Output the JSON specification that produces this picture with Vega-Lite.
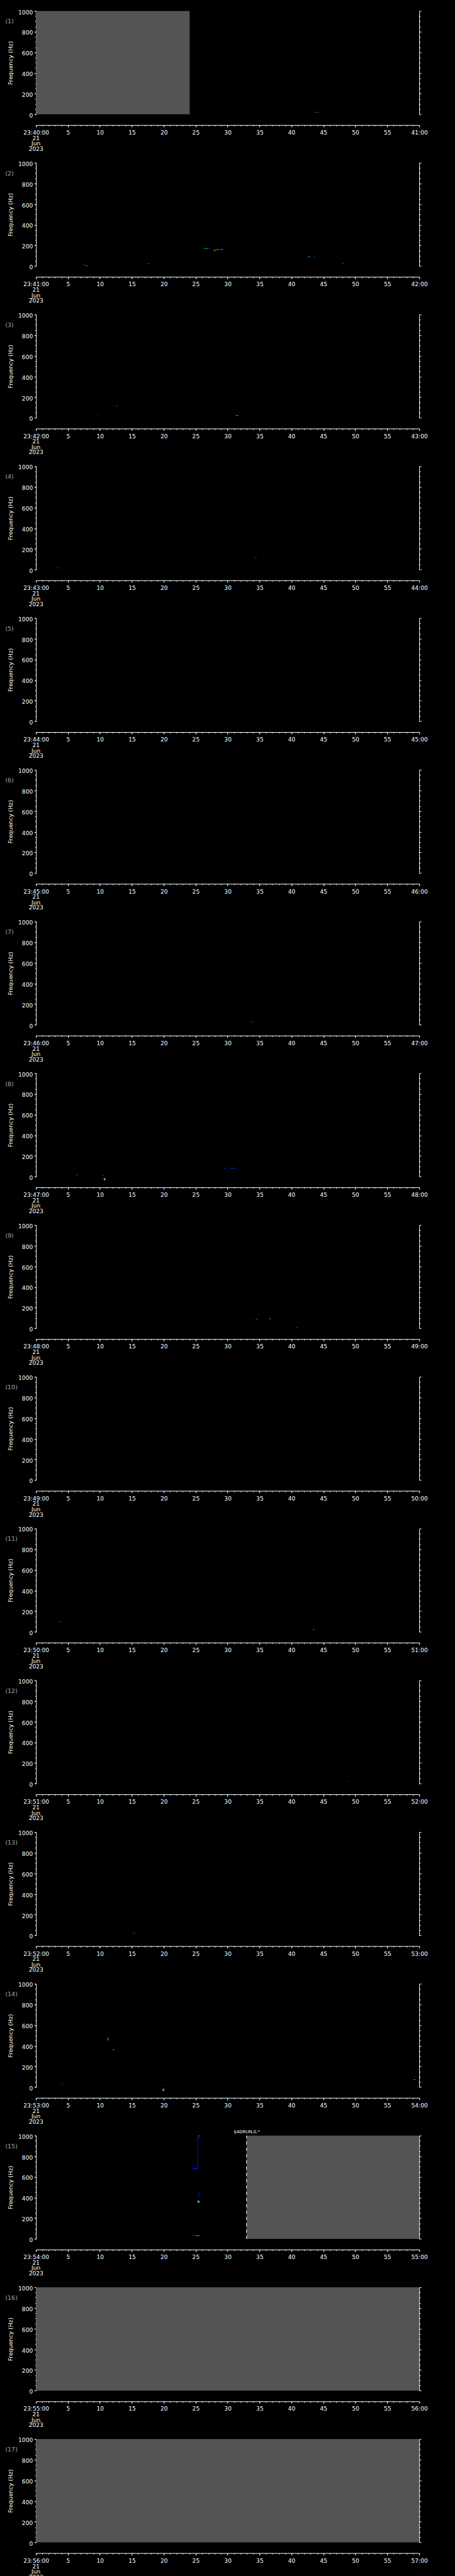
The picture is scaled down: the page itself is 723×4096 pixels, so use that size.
{
"$schema": "https://vega.github.io/schema/vega-lite/v6.json",
"background": "black",
"padding": {"left": 8.2, "top": 14.5, "right": 50, "bottom": 20},
"spacing": 76.3,
"bounds": "flush",
"config": {
  "view": {"stroke": null},
  "font": "DejaVu Sans",
  "axis": {"domainColor": "white", "tickColor": "white", "labelColor": "white", "titleColor": "white", "labelFont": "DejaVu Sans", "titleFont": "DejaVu Sans", "labelFontSize": 9.1, "titleFontSize": 9.2, "titleFontWeight": "normal", "grid": false, "labelOverlap": false, "labelFlush": false, "domainWidth": 1, "tickWidth": 1, "format": "d"}
},
"datasets": {
  "gaps": [
    {"panel": 1, "t0": 0, "t1": 24.06, "f0": 0, "f1": 1000},
    {"panel": 15, "t0": 32.97, "t1": 60, "f0": 0, "f1": 1000},
    {"panel": 16, "t0": 0, "t1": 60, "f0": 0, "f1": 1000},
    {"panel": 17, "t0": 0, "t1": 60, "f0": 0, "f1": 1000}
  ],
  "dates": [
    {"t": 0, "f": -231, "text": "21"},
    {"t": 0, "f": -283, "text": "Jun"},
    {"t": 0, "f": -335, "text": "2023"}
  ],
  "notes": [
    {"panel": 15, "t": 30.98, "f": 1036, "text": "$ADRUN,0,*"},
    {"panel": 8, "t": 10.55, "f": -27, "text": "4"},
    {"panel": 14, "t": 19.75, "f": -27, "text": "4"}
  ],
  "tags": [
    {"panel": 1, "t": -4.81, "f": 897, "text": "(1)"},
    {"panel": 2, "t": -4.81, "f": 897, "text": "(2)"},
    {"panel": 3, "t": -4.81, "f": 897, "text": "(3)"},
    {"panel": 4, "t": -4.81, "f": 897, "text": "(4)"},
    {"panel": 5, "t": -4.81, "f": 897, "text": "(5)"},
    {"panel": 6, "t": -4.81, "f": 897, "text": "(6)"},
    {"panel": 7, "t": -4.81, "f": 897, "text": "(7)"},
    {"panel": 8, "t": -4.81, "f": 897, "text": "(8)"},
    {"panel": 9, "t": -4.81, "f": 897, "text": "(9)"},
    {"panel": 10, "t": -4.81, "f": 897, "text": "(10)"},
    {"panel": 11, "t": -4.81, "f": 897, "text": "(11)"},
    {"panel": 12, "t": -4.81, "f": 897, "text": "(12)"},
    {"panel": 13, "t": -4.81, "f": 897, "text": "(13)"},
    {"panel": 14, "t": -4.81, "f": 897, "text": "(14)"},
    {"panel": 15, "t": -4.81, "f": 897, "text": "(15)"},
    {"panel": 16, "t": -4.81, "f": 897, "text": "(16)"},
    {"panel": 17, "t": -4.81, "f": 897, "text": "(17)"}
  ],
  "pix": [
    {"panel": 1, "t": 7.42, "t2": 7.5, "f": 37, "f2": 41, "p": 2},
    {"panel": 1, "t": 7.5, "t2": 7.62, "f": 37, "f2": 41, "p": 3},
    {"panel": 1, "t": 7.42, "t2": 7.7, "f": 10, "f2": 14, "p": 7},
    {"panel": 1, "t": 15.52, "t2": 15.78, "f": 83, "f2": 87, "p": 2},
    {"panel": 1, "t": 43.45, "t2": 43.94, "f": 20, "f2": 23, "p": 7},
    {"panel": 1, "t": 43.94, "t2": 44.15, "f": 20, "f2": 23, "p": 5},
    {"panel": 1, "t": 44.15, "t2": 44.52, "f": 20, "f2": 23, "p": 2},
    {"panel": 2, "t": 7.45, "t2": 7.65, "f": 13, "f2": 18, "p": 7},
    {"panel": 2, "t": 7.62, "t2": 7.8, "f": 7, "f2": 12, "p": 7},
    {"panel": 2, "t": 7.75, "t2": 7.95, "f": 1, "f2": 6, "p": 7},
    {"panel": 2, "t": 7.95, "t2": 8.13, "f": 0, "f2": 4, "p": 4},
    {"panel": 2, "t": 17.5, "t2": 17.6, "f": 23, "f2": 26, "p": 5},
    {"panel": 2, "t": 17.6, "t2": 17.78, "f": 23, "f2": 26, "p": 3},
    {"panel": 2, "t": 26.23, "t2": 27.0, "f": 168, "f2": 172, "p": 3},
    {"panel": 2, "t": 27.05, "t2": 27.4, "f": 168, "f2": 172, "p": 2},
    {"panel": 2, "t": 26.23, "t2": 26.35, "f": 23, "f2": 26, "p": 7},
    {"panel": 2, "t": 26.35, "t2": 26.58, "f": 23, "f2": 26, "p": 2},
    {"panel": 2, "t": 27.83, "t2": 27.99, "f": 147, "f2": 154, "p": 5},
    {"panel": 2, "t": 27.99, "t2": 28.22, "f": 154, "f2": 158, "p": 6},
    {"panel": 2, "t": 28.22, "t2": 28.6, "f": 158, "f2": 163, "p": 6},
    {"panel": 2, "t": 28.6, "t2": 28.92, "f": 158, "f2": 163, "p": 7},
    {"panel": 2, "t": 28.92, "t2": 29.15, "f": 158, "f2": 163, "p": 5},
    {"panel": 2, "t": 29.15, "t2": 29.55, "f": 158, "f2": 163, "p": 2},
    {"panel": 2, "t": 42.41, "t2": 42.66, "f": 87, "f2": 91, "p": 2},
    {"panel": 2, "t": 42.66, "t2": 42.94, "f": 88, "f2": 93, "p": 3},
    {"panel": 2, "t": 43.41, "t2": 43.55, "f": 87, "f2": 90, "p": 2},
    {"panel": 2, "t": 43.55, "t2": 43.66, "f": 87, "f2": 90, "p": 3},
    {"panel": 2, "t": 43.66, "t2": 43.82, "f": 87, "f2": 90, "p": 2},
    {"panel": 2, "t": 47.97, "t2": 48.15, "f": 23, "f2": 26, "p": 5},
    {"panel": 2, "t": 48.15, "t2": 48.39, "f": 23, "f2": 26, "p": 2},
    {"panel": 3, "t": 12.45, "t2": 12.6, "f": 113, "f2": 117, "p": 2},
    {"panel": 3, "t": 12.6, "t2": 12.75, "f": 113, "f2": 117, "p": 3},
    {"panel": 3, "t": 12.75, "t2": 12.91, "f": 113, "f2": 117, "p": 2},
    {"panel": 3, "t": 9.59, "t2": 9.75, "f": 22, "f2": 26, "p": 7},
    {"panel": 3, "t": 9.75, "t2": 9.9, "f": 22, "f2": 26, "p": 2},
    {"panel": 3, "t": 31.27, "t2": 31.47, "f": 22, "f2": 26, "p": 6},
    {"panel": 3, "t": 31.47, "t2": 31.66, "f": 22, "f2": 26, "p": 5},
    {"panel": 4, "t": 3.26, "t2": 3.53, "f": 16, "f2": 20, "p": 7},
    {"panel": 4, "t": 3.53, "t2": 3.96, "f": 13, "f2": 16, "p": 2},
    {"panel": 4, "t": 34.32, "t2": 34.51, "f": 113, "f2": 117, "p": 3},
    {"panel": 4, "t": 35.63, "t2": 35.94, "f": 108, "f2": 112, "p": 2},
    {"panel": 4, "t": 59.63, "t2": 59.75, "f": 103, "f2": 107, "p": 6},
    {"panel": 4, "t": 59.75, "t2": 59.9, "f": 103, "f2": 107, "p": 2},
    {"panel": 7, "t": 33.71, "t2": 33.9, "f": 26, "f2": 29, "p": 5},
    {"panel": 8, "t": 6.31, "t2": 6.4, "f": 16, "f2": 20, "p": 5},
    {"panel": 8, "t": 6.4, "t2": 6.5, "f": 16, "f2": 20, "p": 7},
    {"panel": 8, "t": 6.5, "t2": 6.62, "f": 16, "f2": 20, "p": 2},
    {"panel": 8, "t": 10.44, "t2": 10.65, "f": 8, "f2": 11, "p": 3},
    {"panel": 8, "t": 10.65, "t2": 10.98, "f": 8, "f2": 11, "p": 2},
    {"panel": 8, "t": 29.42, "t2": 29.88, "f": 79, "f2": 84, "p": 2},
    {"panel": 8, "t": 30.38, "t2": 30.6, "f": 81, "f2": 85, "p": 2},
    {"panel": 8, "t": 30.6, "t2": 30.8, "f": 80, "f2": 85, "p": 3},
    {"panel": 8, "t": 30.8, "t2": 31.35, "f": 77, "f2": 82, "p": 2},
    {"panel": 9, "t": 32.66, "t2": 32.93, "f": 78, "f2": 83, "p": 2},
    {"panel": 9, "t": 33.48, "t2": 33.75, "f": 87, "f2": 90, "p": 2},
    {"panel": 9, "t": 34.44, "t2": 34.6, "f": 84, "f2": 89, "p": 3},
    {"panel": 9, "t": 34.6, "t2": 34.79, "f": 89, "f2": 96, "p": 2},
    {"panel": 9, "t": 36.45, "t2": 36.53, "f": 98, "f2": 107, "p": 2},
    {"panel": 9, "t": 36.56, "t2": 36.83, "f": 90, "f2": 95, "p": 3},
    {"panel": 9, "t": 40.76, "t2": 40.95, "f": 6, "f2": 10, "p": 3},
    {"panel": 11, "t": 3.8, "t2": 3.87, "f": 95, "f2": 102, "p": 3},
    {"panel": 11, "t": 3.87, "t2": 3.96, "f": 89, "f2": 95, "p": 2},
    {"panel": 11, "t": 34.71, "t2": 34.85, "f": 18, "f2": 21, "p": 7},
    {"panel": 11, "t": 34.85, "t2": 35.02, "f": 18, "f2": 21, "p": 2},
    {"panel": 11, "t": 43.31, "t2": 43.45, "f": 18, "f2": 22, "p": 7},
    {"panel": 11, "t": 43.45, "t2": 43.55, "f": 19, "f2": 26, "p": 3},
    {"panel": 11, "t": 43.55, "t2": 43.77, "f": 22, "f2": 26, "p": 2},
    {"panel": 12, "t": 48.6, "t2": 48.72, "f": 18, "f2": 21, "p": 3},
    {"panel": 12, "t": 48.72, "t2": 48.9, "f": 18, "f2": 21, "p": 2},
    {"panel": 13, "t": 15.23, "t2": 15.4, "f": 21, "f2": 24, "p": 5},
    {"panel": 13, "t": 15.4, "t2": 15.65, "f": 21, "f2": 24, "p": 2},
    {"panel": 14, "t": 11.2, "t2": 11.3, "f": 452, "f2": 478, "p": 3},
    {"panel": 14, "t": 11.25, "t2": 11.45, "f": 477, "f2": 484, "p": 2},
    {"panel": 14, "t": 12.06, "t2": 12.25, "f": 359, "f2": 366, "p": 6},
    {"panel": 14, "t": 13.49, "t2": 13.68, "f": 104, "f2": 107, "p": 1},
    {"panel": 14, "t": 4.03, "t2": 4.17, "f": 26, "f2": 31, "p": 7},
    {"panel": 14, "t": 4.15, "t2": 4.3, "f": 21, "f2": 26, "p": 7},
    {"panel": 14, "t": 19.62, "t2": 19.76, "f": 13, "f2": 16, "p": 7},
    {"panel": 14, "t": 19.76, "t2": 20.13, "f": 13, "f2": 16, "p": 2},
    {"panel": 14, "t": 28.35, "t2": 28.5, "f": 16, "f2": 19, "p": 7},
    {"panel": 14, "t": 28.5, "t2": 28.73, "f": 16, "f2": 19, "p": 2},
    {"panel": 14, "t": 59.21, "t2": 59.51, "f": 103, "f2": 107, "p": 2},
    {"panel": 14, "t": 59.14, "t2": 59.4, "f": 70, "f2": 76, "p": 4},
    {"panel": 15, "t": 24.55, "t2": 24.62, "f": 678, "f2": 735, "p": 1},
    {"panel": 15, "t": 24.57, "t2": 25.3, "f": 675, "f2": 684, "p": 2},
    {"panel": 15, "t": 25.27, "t2": 25.36, "f": 675, "f2": 978, "p": 2},
    {"panel": 15, "t": 25.3, "t2": 25.45, "f": 960, "f2": 990, "p": 2},
    {"panel": 15, "t": 25.47, "t2": 25.6, "f": 993, "f2": 1000, "p": 5},
    {"panel": 15, "t": 25.45, "t2": 25.55, "f": 399, "f2": 453, "p": 2},
    {"panel": 15, "t": 25.3, "t2": 25.6, "f": 352, "f2": 370, "p": 3},
    {"panel": 15, "t": 24.57, "t2": 25.05, "f": 29, "f2": 33, "p": 7},
    {"panel": 15, "t": 25.05, "t2": 25.35, "f": 29, "f2": 33, "p": 5},
    {"panel": 15, "t": 25.35, "t2": 25.7, "f": 29, "f2": 33, "p": 4}
  ]
},
"vconcat": [
{"width": 608.9, "height": 164.3, "resolve": {"scale": {"x": "independent", "y": "independent"}}, "layer": [
 {"data": {"name": "gaps"}, "transform": [{"filter": "datum.panel == 1"}], "mark": {"type": "rect", "color": "#545454"}, "encoding": {
  "x": {"field": "t0", "type": "quantitative", "scale": {"domain": [0, 60], "nice": false, "zero": false}, "axis": {"orient": "bottom", "title": null, "offset": 17, "labelOverlap": false, "values": [0,5,10,15,20,25,30,35,40,45,50,55,60], "tickSize": 3.2, "labelPadding": 4.5, "labelExpr": "datum.value == 0 ? '23:40:00' : datum.value == 60 ? '41:00' : datum.label"}},
  "x2": {"field": "t1"},
  "y": {"field": "f0", "type": "quantitative", "scale": {"domain": [0, 1000], "nice": false, "zero": false}, "axis": {"orient": "left", "title": "Frequency (Hz)", "titleX": -41, "titleBaseline": "middle", "labelOverlap": false, "values": [0,200,400,600,800,1000], "tickSize": 3, "labelPadding": 2.5, "labelOffset": 1.5}},
  "y2": {"field": "f1"}}},
 {"data": {"name": "pix"}, "transform": [{"filter": "datum.panel == 1"}], "mark": {"type": "rect"}, "encoding": {
  "x": {"field": "t", "type": "quantitative", "scale": {"domain": [0, 60], "nice": false, "zero": false}, "axis": null},
  "x2": {"field": "t2"},
  "y": {"field": "f", "type": "quantitative", "scale": {"domain": [0, 1000], "nice": false, "zero": false}, "axis": {"orient": "right", "title": null, "labels": false, "values": [0,50,100,150,200,250,300,350,400,450,500,550,600,650,700,750,800,850,900,950,1000], "tickSize": {"condition": {"test": "datum.value % 200 == 0", "value": 3.1}, "value": 1.9}}},
  "y2": {"field": "f2"},
  "color": {"field": "p", "type": "ordinal", "scale": {"domain": [1,2,3,4,5,6,7], "range": ["#00008c","#0010ff","#00e8ff","#00ff50","#ffff00","#ffa000","#e00000"]}, "legend": null}}},
 {"data": {"name": "tags"}, "transform": [{"filter": "datum.panel == 1"}], "mark": {"type": "text", "align": "left", "baseline": "middle", "color": "#a8a8a8", "fontSize": 9.5}, "encoding": {
  "x": {"field": "t", "type": "quantitative", "scale": {"domain": [0, 60], "nice": false, "zero": false}, "axis": {"orient": "bottom", "title": null, "offset": 17, "labels": false, "domain": false, "tickSize": 1.7, "values": [0,1,2,3,4,5,6,7,8,9,10,11,12,13,14,15,16,17,18,19,20,21,22,23,24,25,26,27,28,29,30,31,32,33,34,35,36,37,38,39,40,41,42,43,44,45,46,47,48,49,50,51,52,53,54,55,56,57,58,59,60]}},
  "y": {"field": "f", "type": "quantitative", "scale": {"domain": [0, 1000], "nice": false, "zero": false}, "axis": {"orient": "left", "title": null, "labels": false, "domain": false, "tickSize": 1.7, "values": [0,50,100,150,200,250,300,350,400,450,500,550,600,650,700,750,800,850,900,950,1000]}},
  "text": {"field": "text"}}},
 {"data": {"name": "dates"}, "mark": {"type": "text", "align": "center", "baseline": "middle", "color": "white", "fontSize": 9.1}, "encoding": {
  "x": {"field": "t", "type": "quantitative", "scale": {"domain": [0, 60], "nice": false, "zero": false}, "axis": null},
  "y": {"field": "f", "type": "quantitative", "scale": {"domain": [0, 1000], "nice": false, "zero": false}, "axis": null},
  "text": {"field": "text"}}}
]},
{"width": 608.9, "height": 164.3, "resolve": {"scale": {"x": "independent", "y": "independent"}}, "layer": [
 {"data": {"name": "gaps"}, "transform": [{"filter": "datum.panel == 2"}], "mark": {"type": "rect", "color": "#545454"}, "encoding": {
  "x": {"field": "t0", "type": "quantitative", "scale": {"domain": [0, 60], "nice": false, "zero": false}, "axis": {"orient": "bottom", "title": null, "offset": 17, "labelOverlap": false, "values": [0,5,10,15,20,25,30,35,40,45,50,55,60], "tickSize": 3.2, "labelPadding": 4.5, "labelExpr": "datum.value == 0 ? '23:41:00' : datum.value == 60 ? '42:00' : datum.label"}},
  "x2": {"field": "t1"},
  "y": {"field": "f0", "type": "quantitative", "scale": {"domain": [0, 1000], "nice": false, "zero": false}, "axis": {"orient": "left", "title": "Frequency (Hz)", "titleX": -41, "titleBaseline": "middle", "labelOverlap": false, "values": [0,200,400,600,800,1000], "tickSize": 3, "labelPadding": 2.5, "labelOffset": 1.5}},
  "y2": {"field": "f1"}}},
 {"data": {"name": "pix"}, "transform": [{"filter": "datum.panel == 2"}], "mark": {"type": "rect"}, "encoding": {
  "x": {"field": "t", "type": "quantitative", "scale": {"domain": [0, 60], "nice": false, "zero": false}, "axis": null},
  "x2": {"field": "t2"},
  "y": {"field": "f", "type": "quantitative", "scale": {"domain": [0, 1000], "nice": false, "zero": false}, "axis": {"orient": "right", "title": null, "labels": false, "values": [0,50,100,150,200,250,300,350,400,450,500,550,600,650,700,750,800,850,900,950,1000], "tickSize": {"condition": {"test": "datum.value % 200 == 0", "value": 3.1}, "value": 1.9}}},
  "y2": {"field": "f2"},
  "color": {"field": "p", "type": "ordinal", "scale": {"domain": [1,2,3,4,5,6,7], "range": ["#00008c","#0010ff","#00e8ff","#00ff50","#ffff00","#ffa000","#e00000"]}, "legend": null}}},
 {"data": {"name": "tags"}, "transform": [{"filter": "datum.panel == 2"}], "mark": {"type": "text", "align": "left", "baseline": "middle", "color": "#a8a8a8", "fontSize": 9.5}, "encoding": {
  "x": {"field": "t", "type": "quantitative", "scale": {"domain": [0, 60], "nice": false, "zero": false}, "axis": {"orient": "bottom", "title": null, "offset": 17, "labels": false, "domain": false, "tickSize": 1.7, "values": [0,1,2,3,4,5,6,7,8,9,10,11,12,13,14,15,16,17,18,19,20,21,22,23,24,25,26,27,28,29,30,31,32,33,34,35,36,37,38,39,40,41,42,43,44,45,46,47,48,49,50,51,52,53,54,55,56,57,58,59,60]}},
  "y": {"field": "f", "type": "quantitative", "scale": {"domain": [0, 1000], "nice": false, "zero": false}, "axis": {"orient": "left", "title": null, "labels": false, "domain": false, "tickSize": 1.7, "values": [0,50,100,150,200,250,300,350,400,450,500,550,600,650,700,750,800,850,900,950,1000]}},
  "text": {"field": "text"}}},
 {"data": {"name": "dates"}, "mark": {"type": "text", "align": "center", "baseline": "middle", "color": "white", "fontSize": 9.1}, "encoding": {
  "x": {"field": "t", "type": "quantitative", "scale": {"domain": [0, 60], "nice": false, "zero": false}, "axis": null},
  "y": {"field": "f", "type": "quantitative", "scale": {"domain": [0, 1000], "nice": false, "zero": false}, "axis": null},
  "text": {"field": "text"}}}
]},
{"width": 608.9, "height": 164.3, "resolve": {"scale": {"x": "independent", "y": "independent"}}, "layer": [
 {"data": {"name": "gaps"}, "transform": [{"filter": "datum.panel == 3"}], "mark": {"type": "rect", "color": "#545454"}, "encoding": {
  "x": {"field": "t0", "type": "quantitative", "scale": {"domain": [0, 60], "nice": false, "zero": false}, "axis": {"orient": "bottom", "title": null, "offset": 17, "labelOverlap": false, "values": [0,5,10,15,20,25,30,35,40,45,50,55,60], "tickSize": 3.2, "labelPadding": 4.5, "labelExpr": "datum.value == 0 ? '23:42:00' : datum.value == 60 ? '43:00' : datum.label"}},
  "x2": {"field": "t1"},
  "y": {"field": "f0", "type": "quantitative", "scale": {"domain": [0, 1000], "nice": false, "zero": false}, "axis": {"orient": "left", "title": "Frequency (Hz)", "titleX": -41, "titleBaseline": "middle", "labelOverlap": false, "values": [0,200,400,600,800,1000], "tickSize": 3, "labelPadding": 2.5, "labelOffset": 1.5}},
  "y2": {"field": "f1"}}},
 {"data": {"name": "pix"}, "transform": [{"filter": "datum.panel == 3"}], "mark": {"type": "rect"}, "encoding": {
  "x": {"field": "t", "type": "quantitative", "scale": {"domain": [0, 60], "nice": false, "zero": false}, "axis": null},
  "x2": {"field": "t2"},
  "y": {"field": "f", "type": "quantitative", "scale": {"domain": [0, 1000], "nice": false, "zero": false}, "axis": {"orient": "right", "title": null, "labels": false, "values": [0,50,100,150,200,250,300,350,400,450,500,550,600,650,700,750,800,850,900,950,1000], "tickSize": {"condition": {"test": "datum.value % 200 == 0", "value": 3.1}, "value": 1.9}}},
  "y2": {"field": "f2"},
  "color": {"field": "p", "type": "ordinal", "scale": {"domain": [1,2,3,4,5,6,7], "range": ["#00008c","#0010ff","#00e8ff","#00ff50","#ffff00","#ffa000","#e00000"]}, "legend": null}}},
 {"data": {"name": "tags"}, "transform": [{"filter": "datum.panel == 3"}], "mark": {"type": "text", "align": "left", "baseline": "middle", "color": "#a8a8a8", "fontSize": 9.5}, "encoding": {
  "x": {"field": "t", "type": "quantitative", "scale": {"domain": [0, 60], "nice": false, "zero": false}, "axis": {"orient": "bottom", "title": null, "offset": 17, "labels": false, "domain": false, "tickSize": 1.7, "values": [0,1,2,3,4,5,6,7,8,9,10,11,12,13,14,15,16,17,18,19,20,21,22,23,24,25,26,27,28,29,30,31,32,33,34,35,36,37,38,39,40,41,42,43,44,45,46,47,48,49,50,51,52,53,54,55,56,57,58,59,60]}},
  "y": {"field": "f", "type": "quantitative", "scale": {"domain": [0, 1000], "nice": false, "zero": false}, "axis": {"orient": "left", "title": null, "labels": false, "domain": false, "tickSize": 1.7, "values": [0,50,100,150,200,250,300,350,400,450,500,550,600,650,700,750,800,850,900,950,1000]}},
  "text": {"field": "text"}}},
 {"data": {"name": "dates"}, "mark": {"type": "text", "align": "center", "baseline": "middle", "color": "white", "fontSize": 9.1}, "encoding": {
  "x": {"field": "t", "type": "quantitative", "scale": {"domain": [0, 60], "nice": false, "zero": false}, "axis": null},
  "y": {"field": "f", "type": "quantitative", "scale": {"domain": [0, 1000], "nice": false, "zero": false}, "axis": null},
  "text": {"field": "text"}}}
]},
{"width": 608.9, "height": 164.3, "resolve": {"scale": {"x": "independent", "y": "independent"}}, "layer": [
 {"data": {"name": "gaps"}, "transform": [{"filter": "datum.panel == 4"}], "mark": {"type": "rect", "color": "#545454"}, "encoding": {
  "x": {"field": "t0", "type": "quantitative", "scale": {"domain": [0, 60], "nice": false, "zero": false}, "axis": {"orient": "bottom", "title": null, "offset": 17, "labelOverlap": false, "values": [0,5,10,15,20,25,30,35,40,45,50,55,60], "tickSize": 3.2, "labelPadding": 4.5, "labelExpr": "datum.value == 0 ? '23:43:00' : datum.value == 60 ? '44:00' : datum.label"}},
  "x2": {"field": "t1"},
  "y": {"field": "f0", "type": "quantitative", "scale": {"domain": [0, 1000], "nice": false, "zero": false}, "axis": {"orient": "left", "title": "Frequency (Hz)", "titleX": -41, "titleBaseline": "middle", "labelOverlap": false, "values": [0,200,400,600,800,1000], "tickSize": 3, "labelPadding": 2.5, "labelOffset": 1.5}},
  "y2": {"field": "f1"}}},
 {"data": {"name": "pix"}, "transform": [{"filter": "datum.panel == 4"}], "mark": {"type": "rect"}, "encoding": {
  "x": {"field": "t", "type": "quantitative", "scale": {"domain": [0, 60], "nice": false, "zero": false}, "axis": null},
  "x2": {"field": "t2"},
  "y": {"field": "f", "type": "quantitative", "scale": {"domain": [0, 1000], "nice": false, "zero": false}, "axis": {"orient": "right", "title": null, "labels": false, "values": [0,50,100,150,200,250,300,350,400,450,500,550,600,650,700,750,800,850,900,950,1000], "tickSize": {"condition": {"test": "datum.value % 200 == 0", "value": 3.1}, "value": 1.9}}},
  "y2": {"field": "f2"},
  "color": {"field": "p", "type": "ordinal", "scale": {"domain": [1,2,3,4,5,6,7], "range": ["#00008c","#0010ff","#00e8ff","#00ff50","#ffff00","#ffa000","#e00000"]}, "legend": null}}},
 {"data": {"name": "tags"}, "transform": [{"filter": "datum.panel == 4"}], "mark": {"type": "text", "align": "left", "baseline": "middle", "color": "#a8a8a8", "fontSize": 9.5}, "encoding": {
  "x": {"field": "t", "type": "quantitative", "scale": {"domain": [0, 60], "nice": false, "zero": false}, "axis": {"orient": "bottom", "title": null, "offset": 17, "labels": false, "domain": false, "tickSize": 1.7, "values": [0,1,2,3,4,5,6,7,8,9,10,11,12,13,14,15,16,17,18,19,20,21,22,23,24,25,26,27,28,29,30,31,32,33,34,35,36,37,38,39,40,41,42,43,44,45,46,47,48,49,50,51,52,53,54,55,56,57,58,59,60]}},
  "y": {"field": "f", "type": "quantitative", "scale": {"domain": [0, 1000], "nice": false, "zero": false}, "axis": {"orient": "left", "title": null, "labels": false, "domain": false, "tickSize": 1.7, "values": [0,50,100,150,200,250,300,350,400,450,500,550,600,650,700,750,800,850,900,950,1000]}},
  "text": {"field": "text"}}},
 {"data": {"name": "dates"}, "mark": {"type": "text", "align": "center", "baseline": "middle", "color": "white", "fontSize": 9.1}, "encoding": {
  "x": {"field": "t", "type": "quantitative", "scale": {"domain": [0, 60], "nice": false, "zero": false}, "axis": null},
  "y": {"field": "f", "type": "quantitative", "scale": {"domain": [0, 1000], "nice": false, "zero": false}, "axis": null},
  "text": {"field": "text"}}}
]},
{"width": 608.9, "height": 164.3, "resolve": {"scale": {"x": "independent", "y": "independent"}}, "layer": [
 {"data": {"name": "gaps"}, "transform": [{"filter": "datum.panel == 5"}], "mark": {"type": "rect", "color": "#545454"}, "encoding": {
  "x": {"field": "t0", "type": "quantitative", "scale": {"domain": [0, 60], "nice": false, "zero": false}, "axis": {"orient": "bottom", "title": null, "offset": 17, "labelOverlap": false, "values": [0,5,10,15,20,25,30,35,40,45,50,55,60], "tickSize": 3.2, "labelPadding": 4.5, "labelExpr": "datum.value == 0 ? '23:44:00' : datum.value == 60 ? '45:00' : datum.label"}},
  "x2": {"field": "t1"},
  "y": {"field": "f0", "type": "quantitative", "scale": {"domain": [0, 1000], "nice": false, "zero": false}, "axis": {"orient": "left", "title": "Frequency (Hz)", "titleX": -41, "titleBaseline": "middle", "labelOverlap": false, "values": [0,200,400,600,800,1000], "tickSize": 3, "labelPadding": 2.5, "labelOffset": 1.5}},
  "y2": {"field": "f1"}}},
 {"data": {"name": "pix"}, "transform": [{"filter": "datum.panel == 5"}], "mark": {"type": "rect"}, "encoding": {
  "x": {"field": "t", "type": "quantitative", "scale": {"domain": [0, 60], "nice": false, "zero": false}, "axis": null},
  "x2": {"field": "t2"},
  "y": {"field": "f", "type": "quantitative", "scale": {"domain": [0, 1000], "nice": false, "zero": false}, "axis": {"orient": "right", "title": null, "labels": false, "values": [0,50,100,150,200,250,300,350,400,450,500,550,600,650,700,750,800,850,900,950,1000], "tickSize": {"condition": {"test": "datum.value % 200 == 0", "value": 3.1}, "value": 1.9}}},
  "y2": {"field": "f2"},
  "color": {"field": "p", "type": "ordinal", "scale": {"domain": [1,2,3,4,5,6,7], "range": ["#00008c","#0010ff","#00e8ff","#00ff50","#ffff00","#ffa000","#e00000"]}, "legend": null}}},
 {"data": {"name": "tags"}, "transform": [{"filter": "datum.panel == 5"}], "mark": {"type": "text", "align": "left", "baseline": "middle", "color": "#a8a8a8", "fontSize": 9.5}, "encoding": {
  "x": {"field": "t", "type": "quantitative", "scale": {"domain": [0, 60], "nice": false, "zero": false}, "axis": {"orient": "bottom", "title": null, "offset": 17, "labels": false, "domain": false, "tickSize": 1.7, "values": [0,1,2,3,4,5,6,7,8,9,10,11,12,13,14,15,16,17,18,19,20,21,22,23,24,25,26,27,28,29,30,31,32,33,34,35,36,37,38,39,40,41,42,43,44,45,46,47,48,49,50,51,52,53,54,55,56,57,58,59,60]}},
  "y": {"field": "f", "type": "quantitative", "scale": {"domain": [0, 1000], "nice": false, "zero": false}, "axis": {"orient": "left", "title": null, "labels": false, "domain": false, "tickSize": 1.7, "values": [0,50,100,150,200,250,300,350,400,450,500,550,600,650,700,750,800,850,900,950,1000]}},
  "text": {"field": "text"}}},
 {"data": {"name": "dates"}, "mark": {"type": "text", "align": "center", "baseline": "middle", "color": "white", "fontSize": 9.1}, "encoding": {
  "x": {"field": "t", "type": "quantitative", "scale": {"domain": [0, 60], "nice": false, "zero": false}, "axis": null},
  "y": {"field": "f", "type": "quantitative", "scale": {"domain": [0, 1000], "nice": false, "zero": false}, "axis": null},
  "text": {"field": "text"}}}
]},
{"width": 608.9, "height": 164.3, "resolve": {"scale": {"x": "independent", "y": "independent"}}, "layer": [
 {"data": {"name": "gaps"}, "transform": [{"filter": "datum.panel == 6"}], "mark": {"type": "rect", "color": "#545454"}, "encoding": {
  "x": {"field": "t0", "type": "quantitative", "scale": {"domain": [0, 60], "nice": false, "zero": false}, "axis": {"orient": "bottom", "title": null, "offset": 17, "labelOverlap": false, "values": [0,5,10,15,20,25,30,35,40,45,50,55,60], "tickSize": 3.2, "labelPadding": 4.5, "labelExpr": "datum.value == 0 ? '23:45:00' : datum.value == 60 ? '46:00' : datum.label"}},
  "x2": {"field": "t1"},
  "y": {"field": "f0", "type": "quantitative", "scale": {"domain": [0, 1000], "nice": false, "zero": false}, "axis": {"orient": "left", "title": "Frequency (Hz)", "titleX": -41, "titleBaseline": "middle", "labelOverlap": false, "values": [0,200,400,600,800,1000], "tickSize": 3, "labelPadding": 2.5, "labelOffset": 1.5}},
  "y2": {"field": "f1"}}},
 {"data": {"name": "pix"}, "transform": [{"filter": "datum.panel == 6"}], "mark": {"type": "rect"}, "encoding": {
  "x": {"field": "t", "type": "quantitative", "scale": {"domain": [0, 60], "nice": false, "zero": false}, "axis": null},
  "x2": {"field": "t2"},
  "y": {"field": "f", "type": "quantitative", "scale": {"domain": [0, 1000], "nice": false, "zero": false}, "axis": {"orient": "right", "title": null, "labels": false, "values": [0,50,100,150,200,250,300,350,400,450,500,550,600,650,700,750,800,850,900,950,1000], "tickSize": {"condition": {"test": "datum.value % 200 == 0", "value": 3.1}, "value": 1.9}}},
  "y2": {"field": "f2"},
  "color": {"field": "p", "type": "ordinal", "scale": {"domain": [1,2,3,4,5,6,7], "range": ["#00008c","#0010ff","#00e8ff","#00ff50","#ffff00","#ffa000","#e00000"]}, "legend": null}}},
 {"data": {"name": "tags"}, "transform": [{"filter": "datum.panel == 6"}], "mark": {"type": "text", "align": "left", "baseline": "middle", "color": "#a8a8a8", "fontSize": 9.5}, "encoding": {
  "x": {"field": "t", "type": "quantitative", "scale": {"domain": [0, 60], "nice": false, "zero": false}, "axis": {"orient": "bottom", "title": null, "offset": 17, "labels": false, "domain": false, "tickSize": 1.7, "values": [0,1,2,3,4,5,6,7,8,9,10,11,12,13,14,15,16,17,18,19,20,21,22,23,24,25,26,27,28,29,30,31,32,33,34,35,36,37,38,39,40,41,42,43,44,45,46,47,48,49,50,51,52,53,54,55,56,57,58,59,60]}},
  "y": {"field": "f", "type": "quantitative", "scale": {"domain": [0, 1000], "nice": false, "zero": false}, "axis": {"orient": "left", "title": null, "labels": false, "domain": false, "tickSize": 1.7, "values": [0,50,100,150,200,250,300,350,400,450,500,550,600,650,700,750,800,850,900,950,1000]}},
  "text": {"field": "text"}}},
 {"data": {"name": "dates"}, "mark": {"type": "text", "align": "center", "baseline": "middle", "color": "white", "fontSize": 9.1}, "encoding": {
  "x": {"field": "t", "type": "quantitative", "scale": {"domain": [0, 60], "nice": false, "zero": false}, "axis": null},
  "y": {"field": "f", "type": "quantitative", "scale": {"domain": [0, 1000], "nice": false, "zero": false}, "axis": null},
  "text": {"field": "text"}}}
]},
{"width": 608.9, "height": 164.3, "resolve": {"scale": {"x": "independent", "y": "independent"}}, "layer": [
 {"data": {"name": "gaps"}, "transform": [{"filter": "datum.panel == 7"}], "mark": {"type": "rect", "color": "#545454"}, "encoding": {
  "x": {"field": "t0", "type": "quantitative", "scale": {"domain": [0, 60], "nice": false, "zero": false}, "axis": {"orient": "bottom", "title": null, "offset": 17, "labelOverlap": false, "values": [0,5,10,15,20,25,30,35,40,45,50,55,60], "tickSize": 3.2, "labelPadding": 4.5, "labelExpr": "datum.value == 0 ? '23:46:00' : datum.value == 60 ? '47:00' : datum.label"}},
  "x2": {"field": "t1"},
  "y": {"field": "f0", "type": "quantitative", "scale": {"domain": [0, 1000], "nice": false, "zero": false}, "axis": {"orient": "left", "title": "Frequency (Hz)", "titleX": -41, "titleBaseline": "middle", "labelOverlap": false, "values": [0,200,400,600,800,1000], "tickSize": 3, "labelPadding": 2.5, "labelOffset": 1.5}},
  "y2": {"field": "f1"}}},
 {"data": {"name": "pix"}, "transform": [{"filter": "datum.panel == 7"}], "mark": {"type": "rect"}, "encoding": {
  "x": {"field": "t", "type": "quantitative", "scale": {"domain": [0, 60], "nice": false, "zero": false}, "axis": null},
  "x2": {"field": "t2"},
  "y": {"field": "f", "type": "quantitative", "scale": {"domain": [0, 1000], "nice": false, "zero": false}, "axis": {"orient": "right", "title": null, "labels": false, "values": [0,50,100,150,200,250,300,350,400,450,500,550,600,650,700,750,800,850,900,950,1000], "tickSize": {"condition": {"test": "datum.value % 200 == 0", "value": 3.1}, "value": 1.9}}},
  "y2": {"field": "f2"},
  "color": {"field": "p", "type": "ordinal", "scale": {"domain": [1,2,3,4,5,6,7], "range": ["#00008c","#0010ff","#00e8ff","#00ff50","#ffff00","#ffa000","#e00000"]}, "legend": null}}},
 {"data": {"name": "tags"}, "transform": [{"filter": "datum.panel == 7"}], "mark": {"type": "text", "align": "left", "baseline": "middle", "color": "#a8a8a8", "fontSize": 9.5}, "encoding": {
  "x": {"field": "t", "type": "quantitative", "scale": {"domain": [0, 60], "nice": false, "zero": false}, "axis": {"orient": "bottom", "title": null, "offset": 17, "labels": false, "domain": false, "tickSize": 1.7, "values": [0,1,2,3,4,5,6,7,8,9,10,11,12,13,14,15,16,17,18,19,20,21,22,23,24,25,26,27,28,29,30,31,32,33,34,35,36,37,38,39,40,41,42,43,44,45,46,47,48,49,50,51,52,53,54,55,56,57,58,59,60]}},
  "y": {"field": "f", "type": "quantitative", "scale": {"domain": [0, 1000], "nice": false, "zero": false}, "axis": {"orient": "left", "title": null, "labels": false, "domain": false, "tickSize": 1.7, "values": [0,50,100,150,200,250,300,350,400,450,500,550,600,650,700,750,800,850,900,950,1000]}},
  "text": {"field": "text"}}},
 {"data": {"name": "dates"}, "mark": {"type": "text", "align": "center", "baseline": "middle", "color": "white", "fontSize": 9.1}, "encoding": {
  "x": {"field": "t", "type": "quantitative", "scale": {"domain": [0, 60], "nice": false, "zero": false}, "axis": null},
  "y": {"field": "f", "type": "quantitative", "scale": {"domain": [0, 1000], "nice": false, "zero": false}, "axis": null},
  "text": {"field": "text"}}}
]},
{"width": 608.9, "height": 164.3, "resolve": {"scale": {"x": "independent", "y": "independent"}}, "layer": [
 {"data": {"name": "gaps"}, "transform": [{"filter": "datum.panel == 8"}], "mark": {"type": "rect", "color": "#545454"}, "encoding": {
  "x": {"field": "t0", "type": "quantitative", "scale": {"domain": [0, 60], "nice": false, "zero": false}, "axis": {"orient": "bottom", "title": null, "offset": 17, "labelOverlap": false, "values": [0,5,10,15,20,25,30,35,40,45,50,55,60], "tickSize": 3.2, "labelPadding": 4.5, "labelExpr": "datum.value == 0 ? '23:47:00' : datum.value == 60 ? '48:00' : datum.label"}},
  "x2": {"field": "t1"},
  "y": {"field": "f0", "type": "quantitative", "scale": {"domain": [0, 1000], "nice": false, "zero": false}, "axis": {"orient": "left", "title": "Frequency (Hz)", "titleX": -41, "titleBaseline": "middle", "labelOverlap": false, "values": [0,200,400,600,800,1000], "tickSize": 3, "labelPadding": 2.5, "labelOffset": 1.5}},
  "y2": {"field": "f1"}}},
 {"data": {"name": "pix"}, "transform": [{"filter": "datum.panel == 8"}], "mark": {"type": "rect"}, "encoding": {
  "x": {"field": "t", "type": "quantitative", "scale": {"domain": [0, 60], "nice": false, "zero": false}, "axis": null},
  "x2": {"field": "t2"},
  "y": {"field": "f", "type": "quantitative", "scale": {"domain": [0, 1000], "nice": false, "zero": false}, "axis": {"orient": "right", "title": null, "labels": false, "values": [0,50,100,150,200,250,300,350,400,450,500,550,600,650,700,750,800,850,900,950,1000], "tickSize": {"condition": {"test": "datum.value % 200 == 0", "value": 3.1}, "value": 1.9}}},
  "y2": {"field": "f2"},
  "color": {"field": "p", "type": "ordinal", "scale": {"domain": [1,2,3,4,5,6,7], "range": ["#00008c","#0010ff","#00e8ff","#00ff50","#ffff00","#ffa000","#e00000"]}, "legend": null}}},
 {"data": {"name": "tags"}, "transform": [{"filter": "datum.panel == 8"}], "mark": {"type": "text", "align": "left", "baseline": "middle", "color": "#a8a8a8", "fontSize": 9.5}, "encoding": {
  "x": {"field": "t", "type": "quantitative", "scale": {"domain": [0, 60], "nice": false, "zero": false}, "axis": {"orient": "bottom", "title": null, "offset": 17, "labels": false, "domain": false, "tickSize": 1.7, "values": [0,1,2,3,4,5,6,7,8,9,10,11,12,13,14,15,16,17,18,19,20,21,22,23,24,25,26,27,28,29,30,31,32,33,34,35,36,37,38,39,40,41,42,43,44,45,46,47,48,49,50,51,52,53,54,55,56,57,58,59,60]}},
  "y": {"field": "f", "type": "quantitative", "scale": {"domain": [0, 1000], "nice": false, "zero": false}, "axis": {"orient": "left", "title": null, "labels": false, "domain": false, "tickSize": 1.7, "values": [0,50,100,150,200,250,300,350,400,450,500,550,600,650,700,750,800,850,900,950,1000]}},
  "text": {"field": "text"}}},
 {"data": {"name": "dates"}, "mark": {"type": "text", "align": "center", "baseline": "middle", "color": "white", "fontSize": 9.1}, "encoding": {
  "x": {"field": "t", "type": "quantitative", "scale": {"domain": [0, 60], "nice": false, "zero": false}, "axis": null},
  "y": {"field": "f", "type": "quantitative", "scale": {"domain": [0, 1000], "nice": false, "zero": false}, "axis": null},
  "text": {"field": "text"}}},
 {"data": {"name": "notes"}, "transform": [{"filter": "datum.panel == 8"}], "mark": {"type": "text", "align": "left", "baseline": "middle", "color": "white", "fontSize": 5.5}, "encoding": {
  "x": {"field": "t", "type": "quantitative", "scale": {"domain": [0, 60], "nice": false, "zero": false}, "axis": null},
  "y": {"field": "f", "type": "quantitative", "scale": {"domain": [0, 1000], "nice": false, "zero": false}, "axis": null},
  "text": {"field": "text"}}}
]},
{"width": 608.9, "height": 164.3, "resolve": {"scale": {"x": "independent", "y": "independent"}}, "layer": [
 {"data": {"name": "gaps"}, "transform": [{"filter": "datum.panel == 9"}], "mark": {"type": "rect", "color": "#545454"}, "encoding": {
  "x": {"field": "t0", "type": "quantitative", "scale": {"domain": [0, 60], "nice": false, "zero": false}, "axis": {"orient": "bottom", "title": null, "offset": 17, "labelOverlap": false, "values": [0,5,10,15,20,25,30,35,40,45,50,55,60], "tickSize": 3.2, "labelPadding": 4.5, "labelExpr": "datum.value == 0 ? '23:48:00' : datum.value == 60 ? '49:00' : datum.label"}},
  "x2": {"field": "t1"},
  "y": {"field": "f0", "type": "quantitative", "scale": {"domain": [0, 1000], "nice": false, "zero": false}, "axis": {"orient": "left", "title": "Frequency (Hz)", "titleX": -41, "titleBaseline": "middle", "labelOverlap": false, "values": [0,200,400,600,800,1000], "tickSize": 3, "labelPadding": 2.5, "labelOffset": 1.5}},
  "y2": {"field": "f1"}}},
 {"data": {"name": "pix"}, "transform": [{"filter": "datum.panel == 9"}], "mark": {"type": "rect"}, "encoding": {
  "x": {"field": "t", "type": "quantitative", "scale": {"domain": [0, 60], "nice": false, "zero": false}, "axis": null},
  "x2": {"field": "t2"},
  "y": {"field": "f", "type": "quantitative", "scale": {"domain": [0, 1000], "nice": false, "zero": false}, "axis": {"orient": "right", "title": null, "labels": false, "values": [0,50,100,150,200,250,300,350,400,450,500,550,600,650,700,750,800,850,900,950,1000], "tickSize": {"condition": {"test": "datum.value % 200 == 0", "value": 3.1}, "value": 1.9}}},
  "y2": {"field": "f2"},
  "color": {"field": "p", "type": "ordinal", "scale": {"domain": [1,2,3,4,5,6,7], "range": ["#00008c","#0010ff","#00e8ff","#00ff50","#ffff00","#ffa000","#e00000"]}, "legend": null}}},
 {"data": {"name": "tags"}, "transform": [{"filter": "datum.panel == 9"}], "mark": {"type": "text", "align": "left", "baseline": "middle", "color": "#a8a8a8", "fontSize": 9.5}, "encoding": {
  "x": {"field": "t", "type": "quantitative", "scale": {"domain": [0, 60], "nice": false, "zero": false}, "axis": {"orient": "bottom", "title": null, "offset": 17, "labels": false, "domain": false, "tickSize": 1.7, "values": [0,1,2,3,4,5,6,7,8,9,10,11,12,13,14,15,16,17,18,19,20,21,22,23,24,25,26,27,28,29,30,31,32,33,34,35,36,37,38,39,40,41,42,43,44,45,46,47,48,49,50,51,52,53,54,55,56,57,58,59,60]}},
  "y": {"field": "f", "type": "quantitative", "scale": {"domain": [0, 1000], "nice": false, "zero": false}, "axis": {"orient": "left", "title": null, "labels": false, "domain": false, "tickSize": 1.7, "values": [0,50,100,150,200,250,300,350,400,450,500,550,600,650,700,750,800,850,900,950,1000]}},
  "text": {"field": "text"}}},
 {"data": {"name": "dates"}, "mark": {"type": "text", "align": "center", "baseline": "middle", "color": "white", "fontSize": 9.1}, "encoding": {
  "x": {"field": "t", "type": "quantitative", "scale": {"domain": [0, 60], "nice": false, "zero": false}, "axis": null},
  "y": {"field": "f", "type": "quantitative", "scale": {"domain": [0, 1000], "nice": false, "zero": false}, "axis": null},
  "text": {"field": "text"}}}
]},
{"width": 608.9, "height": 164.3, "resolve": {"scale": {"x": "independent", "y": "independent"}}, "layer": [
 {"data": {"name": "gaps"}, "transform": [{"filter": "datum.panel == 10"}], "mark": {"type": "rect", "color": "#545454"}, "encoding": {
  "x": {"field": "t0", "type": "quantitative", "scale": {"domain": [0, 60], "nice": false, "zero": false}, "axis": {"orient": "bottom", "title": null, "offset": 17, "labelOverlap": false, "values": [0,5,10,15,20,25,30,35,40,45,50,55,60], "tickSize": 3.2, "labelPadding": 4.5, "labelExpr": "datum.value == 0 ? '23:49:00' : datum.value == 60 ? '50:00' : datum.label"}},
  "x2": {"field": "t1"},
  "y": {"field": "f0", "type": "quantitative", "scale": {"domain": [0, 1000], "nice": false, "zero": false}, "axis": {"orient": "left", "title": "Frequency (Hz)", "titleX": -41, "titleBaseline": "middle", "labelOverlap": false, "values": [0,200,400,600,800,1000], "tickSize": 3, "labelPadding": 2.5, "labelOffset": 1.5}},
  "y2": {"field": "f1"}}},
 {"data": {"name": "pix"}, "transform": [{"filter": "datum.panel == 10"}], "mark": {"type": "rect"}, "encoding": {
  "x": {"field": "t", "type": "quantitative", "scale": {"domain": [0, 60], "nice": false, "zero": false}, "axis": null},
  "x2": {"field": "t2"},
  "y": {"field": "f", "type": "quantitative", "scale": {"domain": [0, 1000], "nice": false, "zero": false}, "axis": {"orient": "right", "title": null, "labels": false, "values": [0,50,100,150,200,250,300,350,400,450,500,550,600,650,700,750,800,850,900,950,1000], "tickSize": {"condition": {"test": "datum.value % 200 == 0", "value": 3.1}, "value": 1.9}}},
  "y2": {"field": "f2"},
  "color": {"field": "p", "type": "ordinal", "scale": {"domain": [1,2,3,4,5,6,7], "range": ["#00008c","#0010ff","#00e8ff","#00ff50","#ffff00","#ffa000","#e00000"]}, "legend": null}}},
 {"data": {"name": "tags"}, "transform": [{"filter": "datum.panel == 10"}], "mark": {"type": "text", "align": "left", "baseline": "middle", "color": "#a8a8a8", "fontSize": 9.5}, "encoding": {
  "x": {"field": "t", "type": "quantitative", "scale": {"domain": [0, 60], "nice": false, "zero": false}, "axis": {"orient": "bottom", "title": null, "offset": 17, "labels": false, "domain": false, "tickSize": 1.7, "values": [0,1,2,3,4,5,6,7,8,9,10,11,12,13,14,15,16,17,18,19,20,21,22,23,24,25,26,27,28,29,30,31,32,33,34,35,36,37,38,39,40,41,42,43,44,45,46,47,48,49,50,51,52,53,54,55,56,57,58,59,60]}},
  "y": {"field": "f", "type": "quantitative", "scale": {"domain": [0, 1000], "nice": false, "zero": false}, "axis": {"orient": "left", "title": null, "labels": false, "domain": false, "tickSize": 1.7, "values": [0,50,100,150,200,250,300,350,400,450,500,550,600,650,700,750,800,850,900,950,1000]}},
  "text": {"field": "text"}}},
 {"data": {"name": "dates"}, "mark": {"type": "text", "align": "center", "baseline": "middle", "color": "white", "fontSize": 9.1}, "encoding": {
  "x": {"field": "t", "type": "quantitative", "scale": {"domain": [0, 60], "nice": false, "zero": false}, "axis": null},
  "y": {"field": "f", "type": "quantitative", "scale": {"domain": [0, 1000], "nice": false, "zero": false}, "axis": null},
  "text": {"field": "text"}}}
]},
{"width": 608.9, "height": 164.3, "resolve": {"scale": {"x": "independent", "y": "independent"}}, "layer": [
 {"data": {"name": "gaps"}, "transform": [{"filter": "datum.panel == 11"}], "mark": {"type": "rect", "color": "#545454"}, "encoding": {
  "x": {"field": "t0", "type": "quantitative", "scale": {"domain": [0, 60], "nice": false, "zero": false}, "axis": {"orient": "bottom", "title": null, "offset": 17, "labelOverlap": false, "values": [0,5,10,15,20,25,30,35,40,45,50,55,60], "tickSize": 3.2, "labelPadding": 4.5, "labelExpr": "datum.value == 0 ? '23:50:00' : datum.value == 60 ? '51:00' : datum.label"}},
  "x2": {"field": "t1"},
  "y": {"field": "f0", "type": "quantitative", "scale": {"domain": [0, 1000], "nice": false, "zero": false}, "axis": {"orient": "left", "title": "Frequency (Hz)", "titleX": -41, "titleBaseline": "middle", "labelOverlap": false, "values": [0,200,400,600,800,1000], "tickSize": 3, "labelPadding": 2.5, "labelOffset": 1.5}},
  "y2": {"field": "f1"}}},
 {"data": {"name": "pix"}, "transform": [{"filter": "datum.panel == 11"}], "mark": {"type": "rect"}, "encoding": {
  "x": {"field": "t", "type": "quantitative", "scale": {"domain": [0, 60], "nice": false, "zero": false}, "axis": null},
  "x2": {"field": "t2"},
  "y": {"field": "f", "type": "quantitative", "scale": {"domain": [0, 1000], "nice": false, "zero": false}, "axis": {"orient": "right", "title": null, "labels": false, "values": [0,50,100,150,200,250,300,350,400,450,500,550,600,650,700,750,800,850,900,950,1000], "tickSize": {"condition": {"test": "datum.value % 200 == 0", "value": 3.1}, "value": 1.9}}},
  "y2": {"field": "f2"},
  "color": {"field": "p", "type": "ordinal", "scale": {"domain": [1,2,3,4,5,6,7], "range": ["#00008c","#0010ff","#00e8ff","#00ff50","#ffff00","#ffa000","#e00000"]}, "legend": null}}},
 {"data": {"name": "tags"}, "transform": [{"filter": "datum.panel == 11"}], "mark": {"type": "text", "align": "left", "baseline": "middle", "color": "#a8a8a8", "fontSize": 9.5}, "encoding": {
  "x": {"field": "t", "type": "quantitative", "scale": {"domain": [0, 60], "nice": false, "zero": false}, "axis": {"orient": "bottom", "title": null, "offset": 17, "labels": false, "domain": false, "tickSize": 1.7, "values": [0,1,2,3,4,5,6,7,8,9,10,11,12,13,14,15,16,17,18,19,20,21,22,23,24,25,26,27,28,29,30,31,32,33,34,35,36,37,38,39,40,41,42,43,44,45,46,47,48,49,50,51,52,53,54,55,56,57,58,59,60]}},
  "y": {"field": "f", "type": "quantitative", "scale": {"domain": [0, 1000], "nice": false, "zero": false}, "axis": {"orient": "left", "title": null, "labels": false, "domain": false, "tickSize": 1.7, "values": [0,50,100,150,200,250,300,350,400,450,500,550,600,650,700,750,800,850,900,950,1000]}},
  "text": {"field": "text"}}},
 {"data": {"name": "dates"}, "mark": {"type": "text", "align": "center", "baseline": "middle", "color": "white", "fontSize": 9.1}, "encoding": {
  "x": {"field": "t", "type": "quantitative", "scale": {"domain": [0, 60], "nice": false, "zero": false}, "axis": null},
  "y": {"field": "f", "type": "quantitative", "scale": {"domain": [0, 1000], "nice": false, "zero": false}, "axis": null},
  "text": {"field": "text"}}}
]},
{"width": 608.9, "height": 164.3, "resolve": {"scale": {"x": "independent", "y": "independent"}}, "layer": [
 {"data": {"name": "gaps"}, "transform": [{"filter": "datum.panel == 12"}], "mark": {"type": "rect", "color": "#545454"}, "encoding": {
  "x": {"field": "t0", "type": "quantitative", "scale": {"domain": [0, 60], "nice": false, "zero": false}, "axis": {"orient": "bottom", "title": null, "offset": 17, "labelOverlap": false, "values": [0,5,10,15,20,25,30,35,40,45,50,55,60], "tickSize": 3.2, "labelPadding": 4.5, "labelExpr": "datum.value == 0 ? '23:51:00' : datum.value == 60 ? '52:00' : datum.label"}},
  "x2": {"field": "t1"},
  "y": {"field": "f0", "type": "quantitative", "scale": {"domain": [0, 1000], "nice": false, "zero": false}, "axis": {"orient": "left", "title": "Frequency (Hz)", "titleX": -41, "titleBaseline": "middle", "labelOverlap": false, "values": [0,200,400,600,800,1000], "tickSize": 3, "labelPadding": 2.5, "labelOffset": 1.5}},
  "y2": {"field": "f1"}}},
 {"data": {"name": "pix"}, "transform": [{"filter": "datum.panel == 12"}], "mark": {"type": "rect"}, "encoding": {
  "x": {"field": "t", "type": "quantitative", "scale": {"domain": [0, 60], "nice": false, "zero": false}, "axis": null},
  "x2": {"field": "t2"},
  "y": {"field": "f", "type": "quantitative", "scale": {"domain": [0, 1000], "nice": false, "zero": false}, "axis": {"orient": "right", "title": null, "labels": false, "values": [0,50,100,150,200,250,300,350,400,450,500,550,600,650,700,750,800,850,900,950,1000], "tickSize": {"condition": {"test": "datum.value % 200 == 0", "value": 3.1}, "value": 1.9}}},
  "y2": {"field": "f2"},
  "color": {"field": "p", "type": "ordinal", "scale": {"domain": [1,2,3,4,5,6,7], "range": ["#00008c","#0010ff","#00e8ff","#00ff50","#ffff00","#ffa000","#e00000"]}, "legend": null}}},
 {"data": {"name": "tags"}, "transform": [{"filter": "datum.panel == 12"}], "mark": {"type": "text", "align": "left", "baseline": "middle", "color": "#a8a8a8", "fontSize": 9.5}, "encoding": {
  "x": {"field": "t", "type": "quantitative", "scale": {"domain": [0, 60], "nice": false, "zero": false}, "axis": {"orient": "bottom", "title": null, "offset": 17, "labels": false, "domain": false, "tickSize": 1.7, "values": [0,1,2,3,4,5,6,7,8,9,10,11,12,13,14,15,16,17,18,19,20,21,22,23,24,25,26,27,28,29,30,31,32,33,34,35,36,37,38,39,40,41,42,43,44,45,46,47,48,49,50,51,52,53,54,55,56,57,58,59,60]}},
  "y": {"field": "f", "type": "quantitative", "scale": {"domain": [0, 1000], "nice": false, "zero": false}, "axis": {"orient": "left", "title": null, "labels": false, "domain": false, "tickSize": 1.7, "values": [0,50,100,150,200,250,300,350,400,450,500,550,600,650,700,750,800,850,900,950,1000]}},
  "text": {"field": "text"}}},
 {"data": {"name": "dates"}, "mark": {"type": "text", "align": "center", "baseline": "middle", "color": "white", "fontSize": 9.1}, "encoding": {
  "x": {"field": "t", "type": "quantitative", "scale": {"domain": [0, 60], "nice": false, "zero": false}, "axis": null},
  "y": {"field": "f", "type": "quantitative", "scale": {"domain": [0, 1000], "nice": false, "zero": false}, "axis": null},
  "text": {"field": "text"}}}
]},
{"width": 608.9, "height": 164.3, "resolve": {"scale": {"x": "independent", "y": "independent"}}, "layer": [
 {"data": {"name": "gaps"}, "transform": [{"filter": "datum.panel == 13"}], "mark": {"type": "rect", "color": "#545454"}, "encoding": {
  "x": {"field": "t0", "type": "quantitative", "scale": {"domain": [0, 60], "nice": false, "zero": false}, "axis": {"orient": "bottom", "title": null, "offset": 17, "labelOverlap": false, "values": [0,5,10,15,20,25,30,35,40,45,50,55,60], "tickSize": 3.2, "labelPadding": 4.5, "labelExpr": "datum.value == 0 ? '23:52:00' : datum.value == 60 ? '53:00' : datum.label"}},
  "x2": {"field": "t1"},
  "y": {"field": "f0", "type": "quantitative", "scale": {"domain": [0, 1000], "nice": false, "zero": false}, "axis": {"orient": "left", "title": "Frequency (Hz)", "titleX": -41, "titleBaseline": "middle", "labelOverlap": false, "values": [0,200,400,600,800,1000], "tickSize": 3, "labelPadding": 2.5, "labelOffset": 1.5}},
  "y2": {"field": "f1"}}},
 {"data": {"name": "pix"}, "transform": [{"filter": "datum.panel == 13"}], "mark": {"type": "rect"}, "encoding": {
  "x": {"field": "t", "type": "quantitative", "scale": {"domain": [0, 60], "nice": false, "zero": false}, "axis": null},
  "x2": {"field": "t2"},
  "y": {"field": "f", "type": "quantitative", "scale": {"domain": [0, 1000], "nice": false, "zero": false}, "axis": {"orient": "right", "title": null, "labels": false, "values": [0,50,100,150,200,250,300,350,400,450,500,550,600,650,700,750,800,850,900,950,1000], "tickSize": {"condition": {"test": "datum.value % 200 == 0", "value": 3.1}, "value": 1.9}}},
  "y2": {"field": "f2"},
  "color": {"field": "p", "type": "ordinal", "scale": {"domain": [1,2,3,4,5,6,7], "range": ["#00008c","#0010ff","#00e8ff","#00ff50","#ffff00","#ffa000","#e00000"]}, "legend": null}}},
 {"data": {"name": "tags"}, "transform": [{"filter": "datum.panel == 13"}], "mark": {"type": "text", "align": "left", "baseline": "middle", "color": "#a8a8a8", "fontSize": 9.5}, "encoding": {
  "x": {"field": "t", "type": "quantitative", "scale": {"domain": [0, 60], "nice": false, "zero": false}, "axis": {"orient": "bottom", "title": null, "offset": 17, "labels": false, "domain": false, "tickSize": 1.7, "values": [0,1,2,3,4,5,6,7,8,9,10,11,12,13,14,15,16,17,18,19,20,21,22,23,24,25,26,27,28,29,30,31,32,33,34,35,36,37,38,39,40,41,42,43,44,45,46,47,48,49,50,51,52,53,54,55,56,57,58,59,60]}},
  "y": {"field": "f", "type": "quantitative", "scale": {"domain": [0, 1000], "nice": false, "zero": false}, "axis": {"orient": "left", "title": null, "labels": false, "domain": false, "tickSize": 1.7, "values": [0,50,100,150,200,250,300,350,400,450,500,550,600,650,700,750,800,850,900,950,1000]}},
  "text": {"field": "text"}}},
 {"data": {"name": "dates"}, "mark": {"type": "text", "align": "center", "baseline": "middle", "color": "white", "fontSize": 9.1}, "encoding": {
  "x": {"field": "t", "type": "quantitative", "scale": {"domain": [0, 60], "nice": false, "zero": false}, "axis": null},
  "y": {"field": "f", "type": "quantitative", "scale": {"domain": [0, 1000], "nice": false, "zero": false}, "axis": null},
  "text": {"field": "text"}}}
]},
{"width": 608.9, "height": 164.3, "resolve": {"scale": {"x": "independent", "y": "independent"}}, "layer": [
 {"data": {"name": "gaps"}, "transform": [{"filter": "datum.panel == 14"}], "mark": {"type": "rect", "color": "#545454"}, "encoding": {
  "x": {"field": "t0", "type": "quantitative", "scale": {"domain": [0, 60], "nice": false, "zero": false}, "axis": {"orient": "bottom", "title": null, "offset": 17, "labelOverlap": false, "values": [0,5,10,15,20,25,30,35,40,45,50,55,60], "tickSize": 3.2, "labelPadding": 4.5, "labelExpr": "datum.value == 0 ? '23:53:00' : datum.value == 60 ? '54:00' : datum.label"}},
  "x2": {"field": "t1"},
  "y": {"field": "f0", "type": "quantitative", "scale": {"domain": [0, 1000], "nice": false, "zero": false}, "axis": {"orient": "left", "title": "Frequency (Hz)", "titleX": -41, "titleBaseline": "middle", "labelOverlap": false, "values": [0,200,400,600,800,1000], "tickSize": 3, "labelPadding": 2.5, "labelOffset": 1.5}},
  "y2": {"field": "f1"}}},
 {"data": {"name": "pix"}, "transform": [{"filter": "datum.panel == 14"}], "mark": {"type": "rect"}, "encoding": {
  "x": {"field": "t", "type": "quantitative", "scale": {"domain": [0, 60], "nice": false, "zero": false}, "axis": null},
  "x2": {"field": "t2"},
  "y": {"field": "f", "type": "quantitative", "scale": {"domain": [0, 1000], "nice": false, "zero": false}, "axis": {"orient": "right", "title": null, "labels": false, "values": [0,50,100,150,200,250,300,350,400,450,500,550,600,650,700,750,800,850,900,950,1000], "tickSize": {"condition": {"test": "datum.value % 200 == 0", "value": 3.1}, "value": 1.9}}},
  "y2": {"field": "f2"},
  "color": {"field": "p", "type": "ordinal", "scale": {"domain": [1,2,3,4,5,6,7], "range": ["#00008c","#0010ff","#00e8ff","#00ff50","#ffff00","#ffa000","#e00000"]}, "legend": null}}},
 {"data": {"name": "tags"}, "transform": [{"filter": "datum.panel == 14"}], "mark": {"type": "text", "align": "left", "baseline": "middle", "color": "#a8a8a8", "fontSize": 9.5}, "encoding": {
  "x": {"field": "t", "type": "quantitative", "scale": {"domain": [0, 60], "nice": false, "zero": false}, "axis": {"orient": "bottom", "title": null, "offset": 17, "labels": false, "domain": false, "tickSize": 1.7, "values": [0,1,2,3,4,5,6,7,8,9,10,11,12,13,14,15,16,17,18,19,20,21,22,23,24,25,26,27,28,29,30,31,32,33,34,35,36,37,38,39,40,41,42,43,44,45,46,47,48,49,50,51,52,53,54,55,56,57,58,59,60]}},
  "y": {"field": "f", "type": "quantitative", "scale": {"domain": [0, 1000], "nice": false, "zero": false}, "axis": {"orient": "left", "title": null, "labels": false, "domain": false, "tickSize": 1.7, "values": [0,50,100,150,200,250,300,350,400,450,500,550,600,650,700,750,800,850,900,950,1000]}},
  "text": {"field": "text"}}},
 {"data": {"name": "dates"}, "mark": {"type": "text", "align": "center", "baseline": "middle", "color": "white", "fontSize": 9.1}, "encoding": {
  "x": {"field": "t", "type": "quantitative", "scale": {"domain": [0, 60], "nice": false, "zero": false}, "axis": null},
  "y": {"field": "f", "type": "quantitative", "scale": {"domain": [0, 1000], "nice": false, "zero": false}, "axis": null},
  "text": {"field": "text"}}},
 {"data": {"name": "notes"}, "transform": [{"filter": "datum.panel == 14"}], "mark": {"type": "text", "align": "left", "baseline": "middle", "color": "white", "fontSize": 5.5}, "encoding": {
  "x": {"field": "t", "type": "quantitative", "scale": {"domain": [0, 60], "nice": false, "zero": false}, "axis": null},
  "y": {"field": "f", "type": "quantitative", "scale": {"domain": [0, 1000], "nice": false, "zero": false}, "axis": null},
  "text": {"field": "text"}}}
]},
{"width": 608.9, "height": 164.3, "resolve": {"scale": {"x": "independent", "y": "independent"}}, "layer": [
 {"data": {"name": "gaps"}, "transform": [{"filter": "datum.panel == 15"}], "mark": {"type": "rect", "color": "#545454"}, "encoding": {
  "x": {"field": "t0", "type": "quantitative", "scale": {"domain": [0, 60], "nice": false, "zero": false}, "axis": {"orient": "bottom", "title": null, "offset": 17, "labelOverlap": false, "values": [0,5,10,15,20,25,30,35,40,45,50,55,60], "tickSize": 3.2, "labelPadding": 4.5, "labelExpr": "datum.value == 0 ? '23:54:00' : datum.value == 60 ? '55:00' : datum.label"}},
  "x2": {"field": "t1"},
  "y": {"field": "f0", "type": "quantitative", "scale": {"domain": [0, 1000], "nice": false, "zero": false}, "axis": {"orient": "left", "title": "Frequency (Hz)", "titleX": -41, "titleBaseline": "middle", "labelOverlap": false, "values": [0,200,400,600,800,1000], "tickSize": 3, "labelPadding": 2.5, "labelOffset": 1.5}},
  "y2": {"field": "f1"}}},
 {"data": {"name": "gaps"}, "transform": [{"filter": "datum.panel == 15"}], "mark": {"type": "rule", "color": "white", "strokeWidth": 1, "strokeDash": [5, 5]}, "encoding": {
  "x": {"field": "t0", "type": "quantitative", "scale": {"domain": [0, 60], "nice": false, "zero": false}, "axis": null},
  "y": {"field": "f0", "type": "quantitative", "scale": {"domain": [0, 1000], "nice": false, "zero": false}, "axis": null},
  "y2": {"field": "f1"}}},
 {"data": {"name": "pix"}, "transform": [{"filter": "datum.panel == 15"}], "mark": {"type": "rect"}, "encoding": {
  "x": {"field": "t", "type": "quantitative", "scale": {"domain": [0, 60], "nice": false, "zero": false}, "axis": null},
  "x2": {"field": "t2"},
  "y": {"field": "f", "type": "quantitative", "scale": {"domain": [0, 1000], "nice": false, "zero": false}, "axis": {"orient": "right", "title": null, "labels": false, "values": [0,50,100,150,200,250,300,350,400,450,500,550,600,650,700,750,800,850,900,950,1000], "tickSize": {"condition": {"test": "datum.value % 200 == 0", "value": 3.1}, "value": 1.9}}},
  "y2": {"field": "f2"},
  "color": {"field": "p", "type": "ordinal", "scale": {"domain": [1,2,3,4,5,6,7], "range": ["#00008c","#0010ff","#00e8ff","#00ff50","#ffff00","#ffa000","#e00000"]}, "legend": null}}},
 {"data": {"name": "tags"}, "transform": [{"filter": "datum.panel == 15"}], "mark": {"type": "text", "align": "left", "baseline": "middle", "color": "#a8a8a8", "fontSize": 9.5}, "encoding": {
  "x": {"field": "t", "type": "quantitative", "scale": {"domain": [0, 60], "nice": false, "zero": false}, "axis": {"orient": "bottom", "title": null, "offset": 17, "labels": false, "domain": false, "tickSize": 1.7, "values": [0,1,2,3,4,5,6,7,8,9,10,11,12,13,14,15,16,17,18,19,20,21,22,23,24,25,26,27,28,29,30,31,32,33,34,35,36,37,38,39,40,41,42,43,44,45,46,47,48,49,50,51,52,53,54,55,56,57,58,59,60]}},
  "y": {"field": "f", "type": "quantitative", "scale": {"domain": [0, 1000], "nice": false, "zero": false}, "axis": {"orient": "left", "title": null, "labels": false, "domain": false, "tickSize": 1.7, "values": [0,50,100,150,200,250,300,350,400,450,500,550,600,650,700,750,800,850,900,950,1000]}},
  "text": {"field": "text"}}},
 {"data": {"name": "dates"}, "mark": {"type": "text", "align": "center", "baseline": "middle", "color": "white", "fontSize": 9.1}, "encoding": {
  "x": {"field": "t", "type": "quantitative", "scale": {"domain": [0, 60], "nice": false, "zero": false}, "axis": null},
  "y": {"field": "f", "type": "quantitative", "scale": {"domain": [0, 1000], "nice": false, "zero": false}, "axis": null},
  "text": {"field": "text"}}},
 {"data": {"name": "notes"}, "transform": [{"filter": "datum.panel == 15"}], "mark": {"type": "text", "align": "left", "baseline": "middle", "color": "white", "fontSize": 6.8}, "encoding": {
  "x": {"field": "t", "type": "quantitative", "scale": {"domain": [0, 60], "nice": false, "zero": false}, "axis": null},
  "y": {"field": "f", "type": "quantitative", "scale": {"domain": [0, 1000], "nice": false, "zero": false}, "axis": null},
  "text": {"field": "text"}}}
]},
{"width": 608.9, "height": 164.3, "resolve": {"scale": {"x": "independent", "y": "independent"}}, "layer": [
 {"data": {"name": "gaps"}, "transform": [{"filter": "datum.panel == 16"}], "mark": {"type": "rect", "color": "#545454"}, "encoding": {
  "x": {"field": "t0", "type": "quantitative", "scale": {"domain": [0, 60], "nice": false, "zero": false}, "axis": {"orient": "bottom", "title": null, "offset": 17, "labelOverlap": false, "values": [0,5,10,15,20,25,30,35,40,45,50,55,60], "tickSize": 3.2, "labelPadding": 4.5, "labelExpr": "datum.value == 0 ? '23:55:00' : datum.value == 60 ? '56:00' : datum.label"}},
  "x2": {"field": "t1"},
  "y": {"field": "f0", "type": "quantitative", "scale": {"domain": [0, 1000], "nice": false, "zero": false}, "axis": {"orient": "left", "title": "Frequency (Hz)", "titleX": -41, "titleBaseline": "middle", "labelOverlap": false, "values": [0,200,400,600,800,1000], "tickSize": 3, "labelPadding": 2.5, "labelOffset": 1.5}},
  "y2": {"field": "f1"}}},
 {"data": {"name": "pix"}, "transform": [{"filter": "datum.panel == 16"}], "mark": {"type": "rect"}, "encoding": {
  "x": {"field": "t", "type": "quantitative", "scale": {"domain": [0, 60], "nice": false, "zero": false}, "axis": null},
  "x2": {"field": "t2"},
  "y": {"field": "f", "type": "quantitative", "scale": {"domain": [0, 1000], "nice": false, "zero": false}, "axis": {"orient": "right", "title": null, "labels": false, "values": [0,50,100,150,200,250,300,350,400,450,500,550,600,650,700,750,800,850,900,950,1000], "tickSize": {"condition": {"test": "datum.value % 200 == 0", "value": 3.1}, "value": 1.9}}},
  "y2": {"field": "f2"},
  "color": {"field": "p", "type": "ordinal", "scale": {"domain": [1,2,3,4,5,6,7], "range": ["#00008c","#0010ff","#00e8ff","#00ff50","#ffff00","#ffa000","#e00000"]}, "legend": null}}},
 {"data": {"name": "tags"}, "transform": [{"filter": "datum.panel == 16"}], "mark": {"type": "text", "align": "left", "baseline": "middle", "color": "#a8a8a8", "fontSize": 9.5}, "encoding": {
  "x": {"field": "t", "type": "quantitative", "scale": {"domain": [0, 60], "nice": false, "zero": false}, "axis": {"orient": "bottom", "title": null, "offset": 17, "labels": false, "domain": false, "tickSize": 1.7, "values": [0,1,2,3,4,5,6,7,8,9,10,11,12,13,14,15,16,17,18,19,20,21,22,23,24,25,26,27,28,29,30,31,32,33,34,35,36,37,38,39,40,41,42,43,44,45,46,47,48,49,50,51,52,53,54,55,56,57,58,59,60]}},
  "y": {"field": "f", "type": "quantitative", "scale": {"domain": [0, 1000], "nice": false, "zero": false}, "axis": {"orient": "left", "title": null, "labels": false, "domain": false, "tickSize": 1.7, "values": [0,50,100,150,200,250,300,350,400,450,500,550,600,650,700,750,800,850,900,950,1000]}},
  "text": {"field": "text"}}},
 {"data": {"name": "dates"}, "mark": {"type": "text", "align": "center", "baseline": "middle", "color": "white", "fontSize": 9.1}, "encoding": {
  "x": {"field": "t", "type": "quantitative", "scale": {"domain": [0, 60], "nice": false, "zero": false}, "axis": null},
  "y": {"field": "f", "type": "quantitative", "scale": {"domain": [0, 1000], "nice": false, "zero": false}, "axis": null},
  "text": {"field": "text"}}}
]},
{"width": 608.9, "height": 164.3, "resolve": {"scale": {"x": "independent", "y": "independent"}}, "layer": [
 {"data": {"name": "gaps"}, "transform": [{"filter": "datum.panel == 17"}], "mark": {"type": "rect", "color": "#545454"}, "encoding": {
  "x": {"field": "t0", "type": "quantitative", "scale": {"domain": [0, 60], "nice": false, "zero": false}, "axis": {"orient": "bottom", "title": null, "offset": 17, "labelOverlap": false, "values": [0,5,10,15,20,25,30,35,40,45,50,55,60], "tickSize": 3.2, "labelPadding": 4.5, "labelExpr": "datum.value == 0 ? '23:56:00' : datum.value == 60 ? '57:00' : datum.label"}},
  "x2": {"field": "t1"},
  "y": {"field": "f0", "type": "quantitative", "scale": {"domain": [0, 1000], "nice": false, "zero": false}, "axis": {"orient": "left", "title": "Frequency (Hz)", "titleX": -41, "titleBaseline": "middle", "labelOverlap": false, "values": [0,200,400,600,800,1000], "tickSize": 3, "labelPadding": 2.5, "labelOffset": 1.5}},
  "y2": {"field": "f1"}}},
 {"data": {"name": "pix"}, "transform": [{"filter": "datum.panel == 17"}], "mark": {"type": "rect"}, "encoding": {
  "x": {"field": "t", "type": "quantitative", "scale": {"domain": [0, 60], "nice": false, "zero": false}, "axis": null},
  "x2": {"field": "t2"},
  "y": {"field": "f", "type": "quantitative", "scale": {"domain": [0, 1000], "nice": false, "zero": false}, "axis": {"orient": "right", "title": null, "labels": false, "values": [0,50,100,150,200,250,300,350,400,450,500,550,600,650,700,750,800,850,900,950,1000], "tickSize": {"condition": {"test": "datum.value % 200 == 0", "value": 3.1}, "value": 1.9}}},
  "y2": {"field": "f2"},
  "color": {"field": "p", "type": "ordinal", "scale": {"domain": [1,2,3,4,5,6,7], "range": ["#00008c","#0010ff","#00e8ff","#00ff50","#ffff00","#ffa000","#e00000"]}, "legend": null}}},
 {"data": {"name": "tags"}, "transform": [{"filter": "datum.panel == 17"}], "mark": {"type": "text", "align": "left", "baseline": "middle", "color": "#a8a8a8", "fontSize": 9.5}, "encoding": {
  "x": {"field": "t", "type": "quantitative", "scale": {"domain": [0, 60], "nice": false, "zero": false}, "axis": {"orient": "bottom", "title": null, "offset": 17, "labels": false, "domain": false, "tickSize": 1.7, "values": [0,1,2,3,4,5,6,7,8,9,10,11,12,13,14,15,16,17,18,19,20,21,22,23,24,25,26,27,28,29,30,31,32,33,34,35,36,37,38,39,40,41,42,43,44,45,46,47,48,49,50,51,52,53,54,55,56,57,58,59,60]}},
  "y": {"field": "f", "type": "quantitative", "scale": {"domain": [0, 1000], "nice": false, "zero": false}, "axis": {"orient": "left", "title": null, "labels": false, "domain": false, "tickSize": 1.7, "values": [0,50,100,150,200,250,300,350,400,450,500,550,600,650,700,750,800,850,900,950,1000]}},
  "text": {"field": "text"}}},
 {"data": {"name": "dates"}, "mark": {"type": "text", "align": "center", "baseline": "middle", "color": "white", "fontSize": 9.1}, "encoding": {
  "x": {"field": "t", "type": "quantitative", "scale": {"domain": [0, 60], "nice": false, "zero": false}, "axis": null},
  "y": {"field": "f", "type": "quantitative", "scale": {"domain": [0, 1000], "nice": false, "zero": false}, "axis": null},
  "text": {"field": "text"}}}
]}
]
}
